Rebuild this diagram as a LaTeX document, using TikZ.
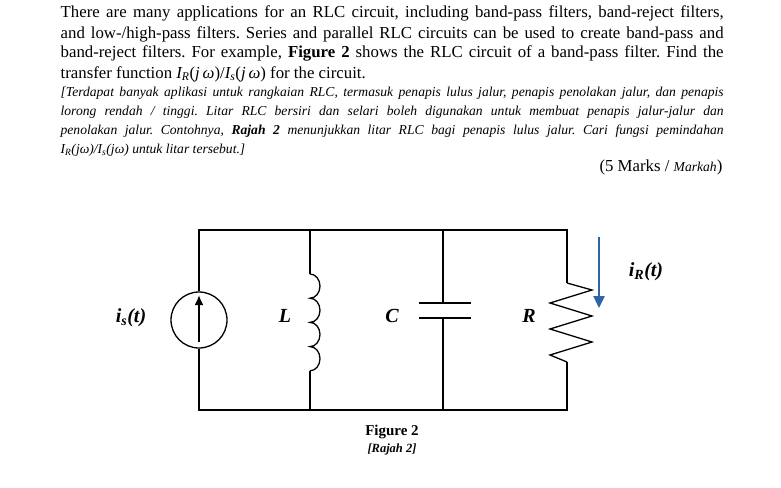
\documentclass[tikz,border=0pt]{standalone}
\usepackage{fontspec}
\setmainfont{Liberation Serif}
\usetikzlibrary{arrows.meta}
\definecolor{arrowblue}{RGB}{45,100,170}
\frenchspacing
\begin{document}
\begin{tikzpicture}[x=1pt,y=-1pt,line width=1.3pt,
  ln/.style={anchor=base west,inner sep=0pt,font=\fontsize{16.8}{18}\selectfont},
  it/.style={anchor=base west,inner sep=0pt,font=\fontsize{13.6}{15}\selectfont\itshape},
  lab/.style={font=\fontsize{20}{22}\selectfont\bfseries\itshape}]
\useasboundingbox (0,0) rectangle (781,487);
\node[ln] (t1) at (60,18) {\makebox[663pt][s]{There are many applications for an RLC circuit, including band-pass filters, band-reject filters,}};
\node[ln] (t2) at (60,38) {\makebox[663pt][s]{and low-/high-pass filters. Series and parallel RLC circuits can be used to create band-pass and}};
\node[ln] (t3) at (60,58) {\makebox[663pt][s]{band-reject filters. For example, \textbf{Figure 2} shows the RLC circuit of a band-pass filter. Find the}};
\node[ln] (t4) at (60,78) {transfer function \textit{I\textsubscript{R}}(\textit{j\,ω})/\textit{I\textsubscript{s}}(\textit{j\,ω}) for the circuit.};
\node[it] (m1) at (60,96) {\makebox[663pt][s]{[Terdapat banyak aplikasi untuk rangkaian RLC, termasuk penapis lulus jalur, penapis penolakan jalur, dan penapis}};
\node[it] (m2) at (60,115) {\makebox[663pt][s]{lorong rendah / tinggi. Litar RLC bersiri dan selari boleh digunakan untuk membuat penapis jalur-jalur dan}};
\node[it] (m3) at (60,134) {\makebox[663pt][s]{penolakan jalur. Contohnya, \textbf{Rajah 2} menunjukkan litar RLC bagi penapis lulus jalur. Cari fungsi pemindahan}};
\node[it] (m4) at (60,153) {I\textsubscript{R}(jω)/I\textsubscript{s}(jω) untuk litar tersebut.]};
\node[ln,anchor=base east] (mk) at (723,171) {(5 Marks / {\itshape\fontsize{13.6}{15}\selectfont Markah})};
% circuit
\coordinate (tl) at (199,230); \coordinate (bl) at (199,410);
\coordinate (tL) at (310,230); \coordinate (bL) at (310,410);
\coordinate (tC) at (443,230); \coordinate (bC) at (443,410);
\coordinate (tR) at (567,230); \coordinate (bR) at (567,410);
\node[circle,draw,minimum size=56pt,inner sep=0pt] (src) at (199,320) {};
\draw (src.north) -- (tl) -- (tR) -- (567,283);
\draw (src.south) -- (bl) -- (bR) -- (567,362);
\draw (tL) -- (310,274);
\draw (310,274) arc (90:-90:10pt and 12.1pt) arc (90:-90:10pt and 12.1pt) arc (90:-90:10pt and 12.1pt) arc (90:-90:10pt and 12.1pt);
\draw (310,371) -- (bL);
\draw (tC) -- (443,303); \draw (419,303) -- (471,303);
\draw (419,318) -- (471,318); \draw (443,318) -- (bC);
\draw (567,283) -- (592,290) -- (550,303) -- (592,316) -- (550,329) -- (592,342) -- (550,355) -- (567,362);
\draw[line width=2pt,-{Latex[length=10pt,width=9pt]}] (199,342) -- (199,295);
\draw[line width=2.4pt,arrowblue,-{Triangle[width=11pt,length=12pt]}] (599,237) -- (599,308);
\node[lab] (is) at (131,318) {i\textsubscript{s}(t)};
\node[lab] (lL) at (285,316) {L};
\node[lab] (lC) at (392,316) {C};
\node[lab] (lR) at (529,316) {R};
\node[lab] (ir) at (646,272) {i\textsubscript{R}(t)};
\node[font=\fontsize{15}{16}\selectfont\bfseries] (fig) at (392,432) {Figure 2};
\node[font=\fontsize{12.5}{14}\selectfont\bfseries\itshape] (raj) at (392,449) {[Rajah 2]};
\end{tikzpicture}
\end{document}
